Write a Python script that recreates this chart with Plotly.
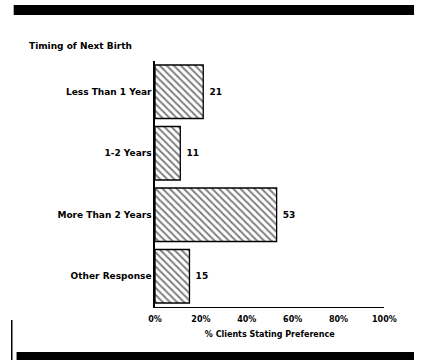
import plotly.graph_objects as go

categories = ["Less Than 1 Year", "1-2 Years", "More Than 2 Years", "Other Response"]
values = [21, 11, 53, 15]
tick_vals = [0, 20, 40, 60, 80, 100]
tick_text = ["0%", "20%", "40%", "60%", "80%", "100%"]

W, H = 426, 360
FONT = "DejaVu Sans, Liberation Sans, Arial, sans-serif"

fig = go.Figure()
fig.add_trace(go.Bar(
    x=values, y=categories, orientation="h",
    marker=dict(color="white", line=dict(color="black", width=1.3),
                pattern=dict(shape="\\", fgcolor="black", bgcolor="white", size=5, solidity=0.4)),
    text=[" " + str(v) for v in values], textposition="outside",
    textfont=dict(family=FONT, size=9, color="black", weight="bold"),
    cliponaxis=False,
))

def px(x):
    return x / W

def py(y):
    return 1 - y / H

shapes = [
    dict(type="rect", xref="paper", yref="paper", x0=px(7), x1=px(426), y0=py(15), y1=py(5),
         fillcolor="black", line=dict(width=0)),
    dict(type="rect", xref="paper", yref="paper", x0=px(10), x1=px(426), y0=py(360), y1=py(352),
         fillcolor="black", line=dict(width=0)),
    dict(type="line", xref="paper", yref="paper", x0=px(5), x1=px(5), y0=py(320), y1=py(360),
         line=dict(color="black", width=1.5)),
]

fig.update_layout(
    width=W, height=H, margin=dict(l=0, r=0, t=0, b=0),
    paper_bgcolor="white", plot_bgcolor="white",
    showlegend=False, bargap=0.13, shapes=shapes,
    font=dict(family=FONT, size=9, color="black", weight="bold"),
    annotations=[dict(text="Timing of Next Birth", xref="paper", yref="paper",
                      x=px(21), y=py(46), xanchor="left", yanchor="middle", showarrow=False,
                      font=dict(family=FONT, size=9, color="black", weight="bold"))],
    xaxis=dict(domain=[px(155), px(395)], range=[0, 100], tickvals=tick_vals, ticktext=tick_text,
               showgrid=False, zeroline=False, showline=True, linecolor="black", linewidth=1,
               ticks="outside", ticklen=4, tickcolor="rgba(0,0,0,0)",
               tickfont=dict(family=FONT, size=8, color="black", weight="bold"),
               title=dict(text="% Clients Stating Preference", standoff=8,
                          font=dict(family=FONT, size=8, color="black", weight="bold"))),
    yaxis=dict(domain=[py(307), py(61)], autorange="reversed", showgrid=False, zeroline=False,
               showline=True, linecolor="black", linewidth=1.5, ticks="",
               tickfont=dict(family=FONT, size=9, color="black", weight="bold")),
)

fig.write_html(
    "out.html",
    config={"displayModeBar": False},
    post_script="document.body.style.margin='0';document.body.style.overflow='hidden';"
                "document.documentElement.style.overflow='hidden';"
                "document.documentElement.style.scrollbarWidth='none';",
)
